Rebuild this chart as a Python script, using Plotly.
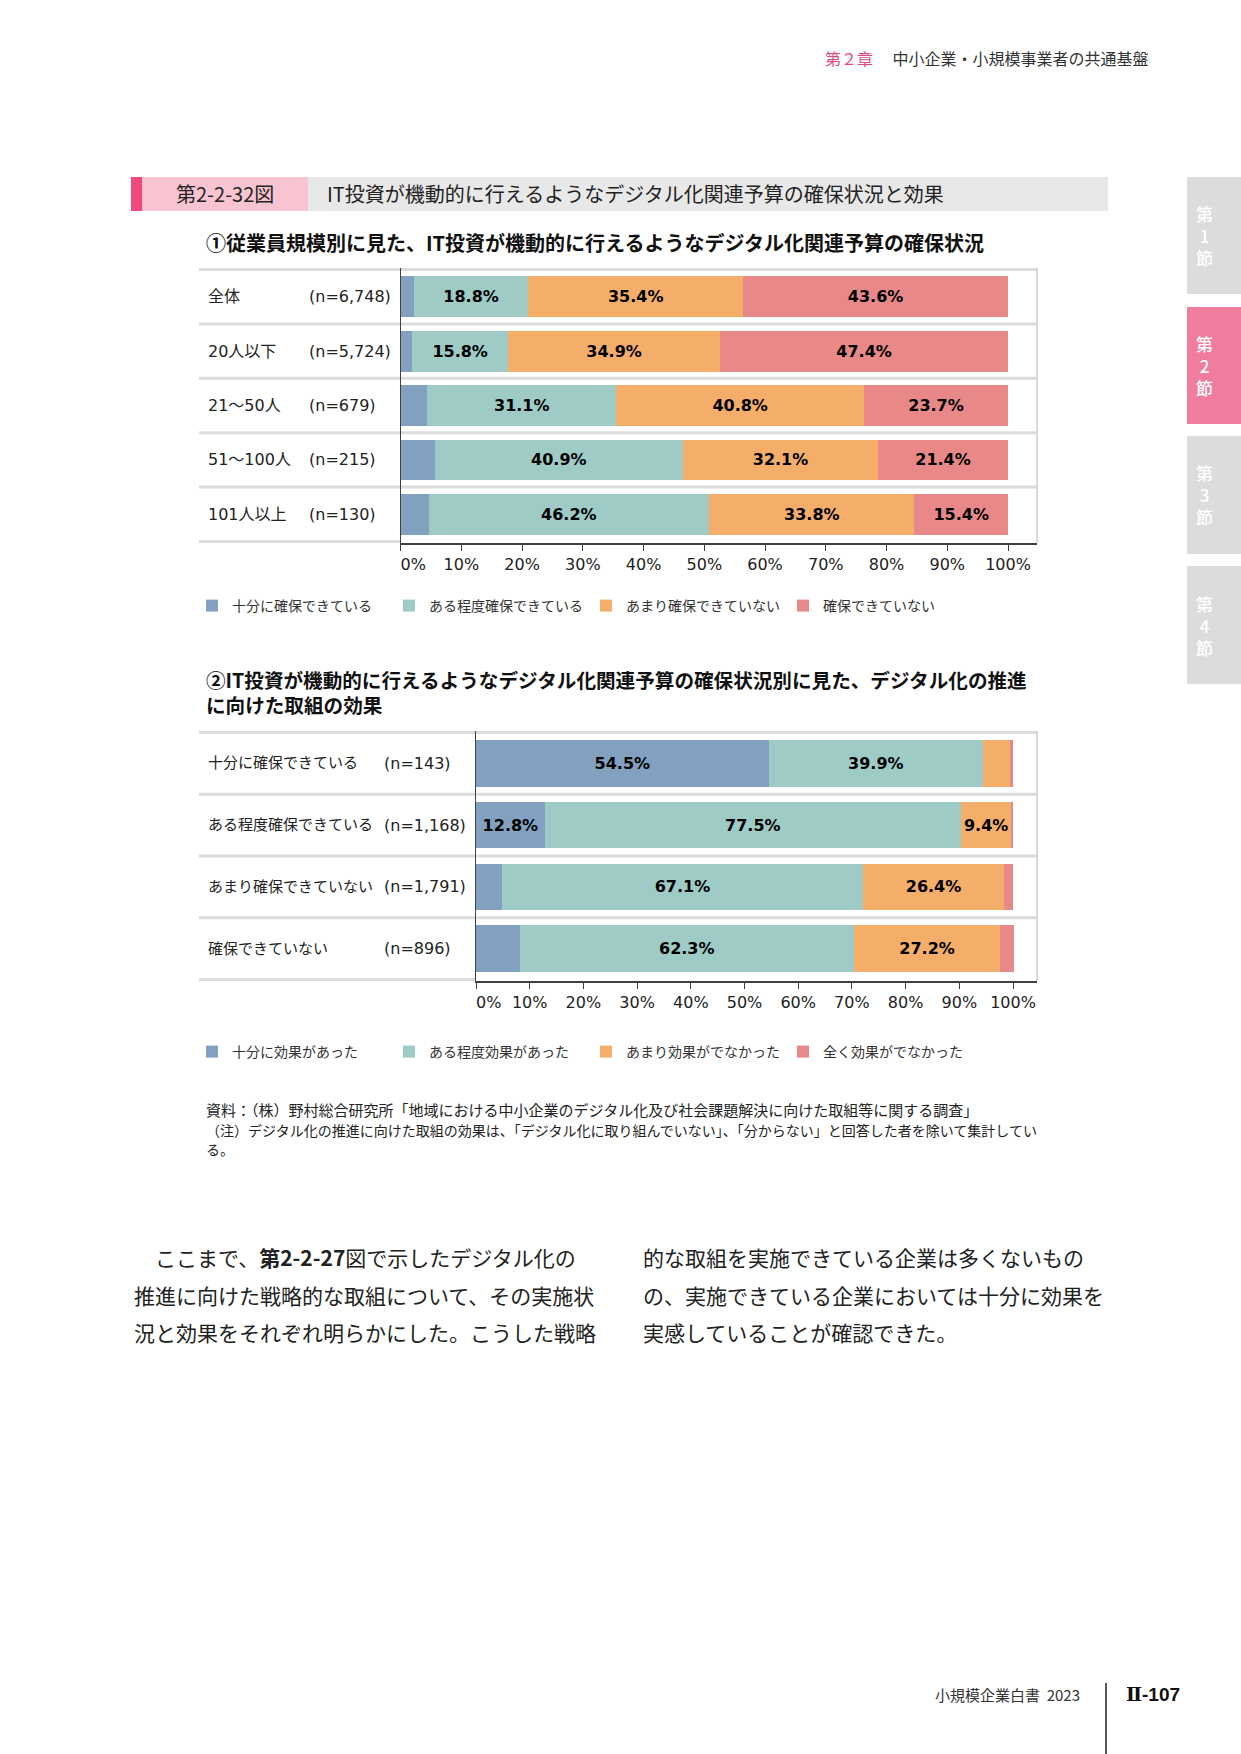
import plotly.graph_objects as go

W, H = 1241, 1754


def px(x):
    return x / W


def py(y):
    return 1 - y / H


# chart 1 : budget status by employee size
sizes = ["全体", "20人以下", "21〜50人", "51〜100人", "101人以上"]
sizes_n = ["(n=6,748)", "(n=5,724)", "(n=679)", "(n=215)", "(n=130)"]
budget_names = ["十分に確保できている", "ある程度確保できている", "あまり確保できていない", "確保できていない"]
budget_enough = [2.2, 1.9, 4.4, 5.6, 4.6]
budget_some = [18.8, 15.8, 31.1, 40.9, 46.2]
budget_little = [35.4, 34.9, 40.8, 32.1, 33.8]
budget_none = [43.6, 47.4, 23.7, 21.4, 15.4]

# chart 2 : effect by budget status
status = ["十分に確保できている", "ある程度確保できている", "あまり確保できていない", "確保できていない"]
status_n = ["(n=143)", "(n=1,168)", "(n=1,791)", "(n=896)"]
effect_names = ["十分に効果があった", "ある程度効果があった", "あまり効果がでなかった", "全く効果がでなかった"]
effect_full = [54.5, 12.8, 4.9, 8.1]
effect_some = [39.9, 77.5, 67.1, 62.3]
effect_little = [5.0, 9.4, 26.4, 27.2]
effect_none = [0.6, 0.3, 1.6, 2.5]

ticks = [0, 10, 20, 30, 40, 50, 60, 70, 80, 90, 100]
colors = ["#82A0C0", "#9FCBC7", "#F4AE69", "#E88888"]

FONT = "DejaVu Sans, Noto Sans CJK JP"
JP = "Noto Sans CJK JP"

fig = go.Figure()


def add_bars(cats, series, names, xa, ya, legend):
    for vals, name, col in zip(series, names, colors):
        fig.add_trace(go.Bar(
            y=cats, x=vals, name=name, orientation="h",
            marker_color=col, marker_line_width=0,
            text=[f"{v}%" if v >= 9 else "" for v in vals],
            textposition="inside", insidetextanchor="middle",
            constraintext="none",
            textfont=dict(family="DejaVu Sans", size=16, color="black", weight="bold"),
            xaxis=xa, yaxis=ya, legend=legend,
            hoverinfo="skip",
        ))


add_bars(sizes, [budget_enough, budget_some, budget_little, budget_none],
         budget_names, "x", "y", "legend")
add_bars(status, [effect_full, effect_some, effect_little, effect_none],
         effect_names, "x2", "y2", "legend2")

# the 0% label sits a little right of the axis in the original
tick_text = [("\u00a0" * 5 if t == 0 else "") + f"{t}%" for t in ticks]

axis_x = dict(tickvals=ticks, ticktext=tick_text, ticks="outside",
              ticklen=6, tickcolor="#404040", showline=True, linecolor="#404040",
              linewidth=2, showgrid=False, zeroline=False, automargin=False,
              tickfont=dict(family=FONT, size=16, color="#222"), fixedrange=True)
axis_y = dict(showticklabels=False, showline=True, linecolor="#404040", linewidth=1,
              showgrid=False, autorange="reversed", ticks="", fixedrange=True, automargin=False)

legend_style = dict(orientation="h", xanchor="left", yanchor="middle",
                    entrywidth=152, entrywidthmode="pixels", traceorder="normal",
                    font=dict(family=JP, size=14, color="#333"), bgcolor="rgba(0,0,0,0)")

fig.update_layout(
    width=W, height=H, autosize=False,
    margin=dict(l=0, r=0, t=0, b=0, pad=0, autoexpand=False),
    plot_bgcolor="white", paper_bgcolor="white",
    barmode="stack", bargap=0.25,
    font=dict(family=FONT, size=16, color="#222"),
    xaxis=dict(axis_x, domain=[px(400.6), px(1037)], range=[0, 100 * (1037 - 400.6) / (1008 - 400.6)], anchor="y"),
    yaxis=dict(axis_y, domain=[py(543), py(268)], anchor="x"),
    xaxis2=dict(axis_x, domain=[px(476), px(1037)], range=[0, 100 * (1037 - 476) / (1013 - 476)], anchor="y2"),
    yaxis2=dict(axis_y, domain=[py(981), py(731)], anchor="x2"),
    legend=dict(legend_style, x=px(192), y=py(606)),
    legend2=dict(legend_style, x=px(192), y=py(1052)),
)

shapes = []
annotations = []

# row separators, borders
for cats, ya, axis_left in [(sizes, "y", 400), (status, "y2", 475)]:
    for k in range(len(cats)):
        shapes.append(dict(type="line", xref="paper", yref=ya, x0=px(199), x1=px(1037),
                           y0=k - 0.5, y1=k - 0.5, line=dict(color="#DCDCDC", width=3), layer="below"))
    shapes.append(dict(type="line", xref="paper", yref=ya, x0=px(199), x1=px(axis_left),
                       y0=len(cats) - 0.5, y1=len(cats) - 0.5, line=dict(color="#DCDCDC", width=3)))
    shapes.append(dict(type="line", xref="paper", yref=ya + " domain", x0=px(1037), x1=px(1037),
                       y0=0, y1=1, line=dict(color="#CCCCCC", width=1.5)))

# row labels
for cats, ns, ya, nx, fs in [(sizes, sizes_n, "y", 307, 16), (status, status_n, "y2", 382, 15)]:
    for c, n in zip(cats, ns):
        annotations.append(dict(text=c, x=px(206), y=c, xref="paper", yref=ya, xanchor="left",
                                showarrow=False, font=dict(family=FONT, size=fs, color="#222")))
        annotations.append(dict(text=n, x=px(nx), y=c, xref="paper", yref=ya, xanchor="left",
                                showarrow=False, font=dict(family=FONT, size=16, color="#222")))

# page header
annotations.append(dict(text="<span style='color:#E8467C'>第２章</span>　 中小企業・小規模事業者の共通基盤",
                        x=px(1151), y=py(58), xref="paper", yref="paper", xanchor="right", yanchor="middle",
                        showarrow=False, font=dict(family=JP, size=16, color="#333")))

# figure title bar
shapes += [
    dict(type="rect", xref="paper", yref="paper", x0=px(131), x1=px(142.5), y0=py(211), y1=py(177),
         fillcolor="#EF4A7C", line_width=0),
    dict(type="rect", xref="paper", yref="paper", x0=px(142.5), x1=px(308), y0=py(211), y1=py(177),
         fillcolor="#F9C4D2", line_width=0),
    dict(type="rect", xref="paper", yref="paper", x0=px(308), x1=px(1108), y0=py(211), y1=py(177),
         fillcolor="#E8E8E8", line_width=0),
]
annotations.append(dict(text="第2-2-32図", x=px(225), y=py(194), xref="paper", yref="paper",
                        xanchor="center", yanchor="middle", showarrow=False,
                        font=dict(family=JP, size=20, color="#222")))
annotations.append(dict(text="IT投資が機動的に行えるようなデジタル化関連予算の確保状況と効果",
                        x=px(325), y=py(194), xref="paper", yref="paper",
                        xanchor="left", yanchor="middle", showarrow=False,
                        font=dict(family=JP, size=20, color="#222")))

# sub titles
annotations.append(dict(text="<b>①従業員規模別に見た、IT投資が機動的に行えるようなデジタル化関連予算の確保状況</b>",
                        x=px(204), y=py(243), xref="paper", yref="paper", xanchor="left", yanchor="middle",
                        showarrow=False, font=dict(family=JP, size=20, color="#111")))
annotations.append(dict(text="<b>②IT投資が機動的に行えるようなデジタル化関連予算の確保状況別に見た、デジタル化の推進</b>"
                             "<br><b>に向けた取組の効果</b>",
                        x=px(204), y=py(692), xref="paper", yref="paper", xanchor="left", yanchor="middle",
                        align="left", showarrow=False, font=dict(family=JP, size=19.6, color="#111")))

# source notes
notes = [("資料：（株）野村総合研究所「地域における中小企業のデジタル化及び社会課題解決に向けた取組等に関する調査」", 1109, 15),
         ("（注）デジタル化の推進に向けた取組の効果は、「デジタル化に取り組んでいない」、「分からない」と回答した者を除いて集計してい", 1130, 14),
         ("る。", 1149, 14)]
for txt, yy, fs in notes:
    annotations.append(dict(text=txt, x=px(204), y=py(yy), xref="paper", yref="paper", xanchor="left",
                            yanchor="middle", showarrow=False, font=dict(family=JP, size=fs, color="#222")))

# body text
body_left = ["　ここまで、<b>第2-2-27</b>図で示したデジタル化の",
             "推進に向けた戦略的な取組について、その実施状",
             "況と効果をそれぞれ明らかにした。こうした戦略"]
body_right = ["的な取組を実施できている企業は多くないもの",
              "の、実施できている企業においては十分に効果を",
              "実感していることが確認できた。"]
for i, (a, b) in enumerate(zip(body_left, body_right)):
    yy = py(1257 + i * 37.5)
    annotations.append(dict(text=a, x=px(132), y=yy, xref="paper", yref="paper", xanchor="left",
                            yanchor="middle", showarrow=False, font=dict(family=JP, size=21, color="#222")))
    annotations.append(dict(text=b, x=px(641), y=yy, xref="paper", yref="paper", xanchor="left",
                            yanchor="middle", showarrow=False, font=dict(family=JP, size=21, color="#222")))

# side tabs
tabs = [("1", 177, 294, "#DCDCDC"), ("2", 307, 424, "#F07C9E"), ("3", 436, 554, "#DCDCDC"), ("4", 566, 684, "#DCDCDC")]
for t, y0, y1, col in tabs:
    shapes.append(dict(type="rect", xref="paper", yref="paper", x0=px(1187), x1=px(1241),
                       y0=py(y1), y1=py(y0), fillcolor=col, line_width=0))
    annotations.append(dict(text=f"第<br>{t}<br>節", x=px(1204), y=py((y0 + y1) / 2), xref="paper", yref="paper",
                            xanchor="center", yanchor="middle", showarrow=False,
                            font=dict(family=JP, size=17, color="white", weight=500)))

# footer
annotations.append(dict(text="小規模企業白書  2023", x=px(1082), y=py(1694), xref="paper", yref="paper",
                        xanchor="right", yanchor="middle", showarrow=False,
                        font=dict(family=JP, size=15, color="#333")))
annotations.append(dict(text="<b><span style='font-family:DejaVu Serif'>Ⅱ</span>-107</b>",
                        x=px(1124), y=py(1694), xref="paper", yref="paper",
                        xanchor="left", yanchor="middle", showarrow=False,
                        font=dict(family="Liberation Sans, " + JP, size=19, color="#111")))
shapes.append(dict(type="line", xref="paper", yref="paper", x0=px(1106), x1=px(1106),
                   y0=py(1754), y1=py(1683), line=dict(color="#222", width=1.5)))

fig.update_layout(shapes=shapes, annotations=annotations)

fig.write_html("out.html", config={"displayModeBar": False, "responsive": False},
               post_script="document.body.style.margin='0';document.documentElement.style.overflow='hidden';")
